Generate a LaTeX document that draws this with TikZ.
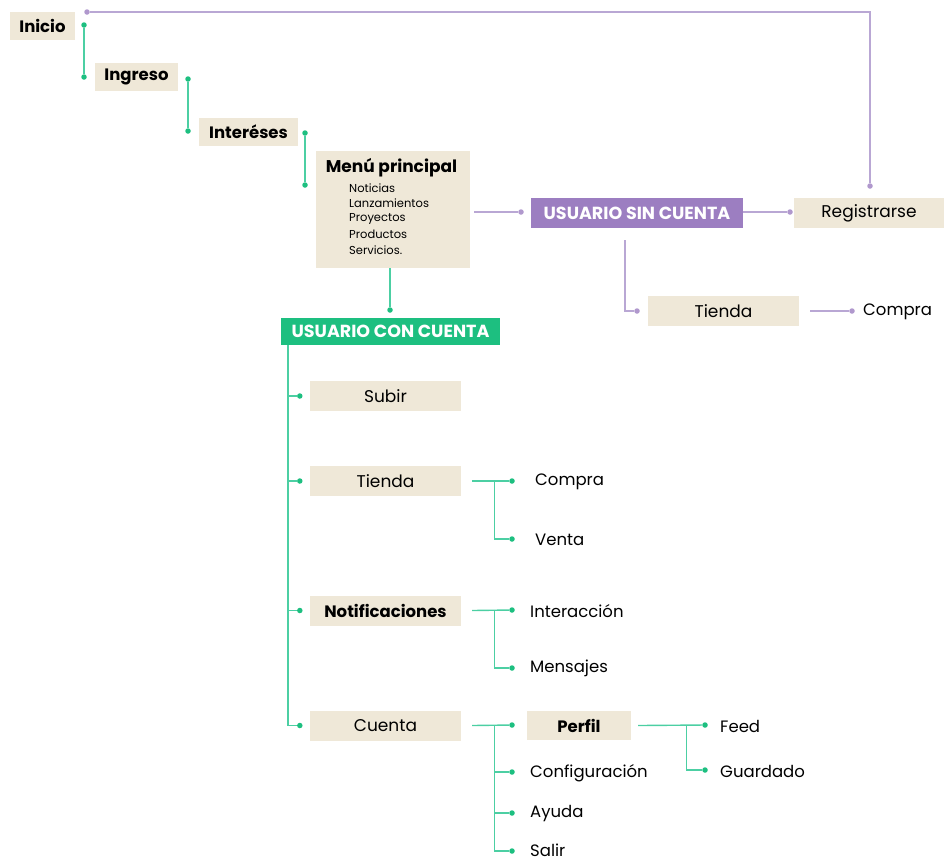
\documentclass[tikz,border=0pt]{standalone}
\usepackage{fontspec}
\setmainfont{Poppins}
\usetikzlibrary{calc}

\definecolor{beige}{HTML}{EFE8D8}
\definecolor{verde}{HTML}{1DBF80}
\definecolor{verdeline}{HTML}{4CCFA3}
\definecolor{morado}{HTML}{9C7EC1}
\definecolor{moradoline}{HTML}{B9A7D4}

\tikzset{
  box/.style={fill=beige, inner sep=0pt, minimum height=30pt, minimum width=151pt, font=\fontsize{17}{20}\selectfont},
  topbox/.style={box, minimum height=28pt, font=\fontsize{16.5}{19}\selectfont\bfseries},
  userbox/.style={inner sep=0pt, text=white, font=\fontsize{17.5}{20}\selectfont\bfseries},
  leaf/.style={anchor=west, inner sep=0pt, font=\fontsize{16.5}{19}\selectfont},
  gdot/.style={circle, fill=verde, inner sep=0pt, minimum size=5.5pt},
  pdot/.style={circle, fill=morado!80, inner sep=0pt, minimum size=5.5pt},
  gline/.style={draw=verdeline, line width=1.4pt},
  pline/.style={draw=moradoline, line width=1.2pt}
}

\begin{document}
\begin{tikzpicture}[x=1pt,y=-1pt]
\useasboundingbox (0,0) rectangle (944,863);

% top steps
\node[topbox, minimum width=65pt] (inicio) at (42.5,26) {Inicio};
\node[topbox, minimum width=83pt] (ingreso) at (136.5,77) {Ingreso};
\node[topbox, minimum width=99pt] (intereses) at (248.5,132) {Interéses};

\node[gdot] (g1) at (84,25) {};
\node[gdot] (g2) at (84,77) {};
\node[gdot] (g3) at (188,79) {};
\node[gdot] (g4) at (188,131) {};
\node[gdot] (g5) at (305,133) {};
\node[gdot] (g6) at (305,185) {};

\draw[gline] (g1) -- (g2);
\draw[gline] (g3) -- (g4);
\draw[gline] (g5) -- (g6);

% menu principal
\node[box, minimum width=154pt, minimum height=117pt] (menu) at (393,209.5) {};
\node[inner sep=0pt, font=\fontsize{17}{20}\selectfont\bfseries] (menutitle) at (391.5,168) {Menú principal};
\foreach \txt [count=\i] in {Noticias,Lanzamientos,Proyectos,Productos,Servicios.}
  \node[anchor=west, inner sep=0pt, font=\fontsize{11.5}{13}\selectfont] (item\i) at (349,172.5+15.5*\i) {\txt};

% sin cuenta
\node[userbox, fill=morado, minimum width=212pt, minimum height=30pt] (usc) at (637,213) {USUARIO SIN CUENTA};
\node[box, minimum width=150pt] (registro) at (869,213) {Registrarse};
\node[box] (tiendas) at (723.5,311) {Tienda};
\node[leaf] (compras) at (863,312) {Compra};

\node[pdot] (p1) at (87,12) {};
\node[pdot] (p2) at (870,186) {};
\node[pdot] (p3) at (521,212) {};
\node[pdot] (p4) at (790,212) {};
\node[pdot] (p5) at (637,311) {};
\node[pdot] (p6) at (852,311) {};
\coordinate (sc) at (625,240);

\draw[pline] (p1) -| (p2);
\draw[pline] ([xshift=4pt]menu.east |- p3) -- (p3);
\draw[pline] (usc.east |- p4) -- (p4);
\draw[pline] (sc) |- (p5);
\draw[pline] ([xshift=11pt]tiendas.east) -- (p6);

% con cuenta
\node[userbox, fill=verde, minimum width=219pt, minimum height=27pt] (ucc) at (390.5,331.5) {USUARIO CON CUENTA};
\node[gdot] (g7) at (390,310) {};
\draw[gline] (menu.south -| g7) -- (g7);

\node[box] (subir) at (385.5,396) {Subir};
\node[box] (tienda) at (385.5,481) {Tienda};
\node[box, font=\fontsize{16.5}{20}\selectfont\bfseries] (notif) at (385.5,610.5) {Notificaciones};
\node[box] (cuenta) at (385.5,725.5) {Cuenta};

\coordinate (trunk) at (288,345);
\foreach \n in {subir,tienda,notif,cuenta}{
  \node[gdot] (d\n) at ([xshift=-10pt]\n.west) {};
  \draw[gline] (trunk) |- (d\n);
}

% tienda
\node[gdot] (dcompra) at (512,481) {};
\node[gdot] (dventa) at (512,539) {};
\node[leaf] (compra) at (535,482) {Compra};
\node[leaf] (venta) at (535,540) {Venta};
\draw[gline] ([xshift=11pt]tienda.east) -- (dcompra);
\draw[gline] ([xshift=33pt]tienda.east) |- (dventa);

% notificaciones
\node[gdot] (dinter) at (512,610) {};
\node[gdot] (dmens) at (512,668) {};
\node[leaf] (inter) at (530,611) {Interacción};
\node[leaf] (mens) at (530,668) {Mensajes};
\draw[gline] ([xshift=11pt]notif.east) -- (dinter);
\draw[gline] ([xshift=33pt]notif.east) |- (dmens);

% cuenta
\node[box, minimum width=104pt, minimum height=29pt, font=\fontsize{16.5}{20}\selectfont\bfseries] (perfil) at (579,725.5) {Perfil};
\node[gdot] (dperfil) at (512,725) {};
\node[gdot] (dconf) at (512,772) {};
\node[gdot] (dayuda) at (512,813) {};
\node[gdot] (dsalir) at (512,851) {};
\node[leaf] (conf) at (530,773) {Configuración};
\node[leaf] (ayuda) at (530,814) {Ayuda};
\node[leaf] (salir) at (530,850) {Salir};
\draw[gline] ([xshift=11pt]cuenta.east) -- (dperfil);
\foreach \n in {dconf,dayuda,dsalir}
  \draw[gline] ([xshift=33pt]cuenta.east) |- (\n);

% perfil
\node[gdot] (dfeed) at (705,725) {};
\node[gdot] (dguard) at (705,770) {};
\node[leaf] (feed) at (720,726) {Feed};
\node[leaf] (guard) at (720,771) {Guardado};
\draw[gline] ([xshift=7pt]perfil.east) -- (dfeed);
\draw[gline] ([xshift=55pt]perfil.east) |- (dguard);
\end{tikzpicture}
\end{document}
